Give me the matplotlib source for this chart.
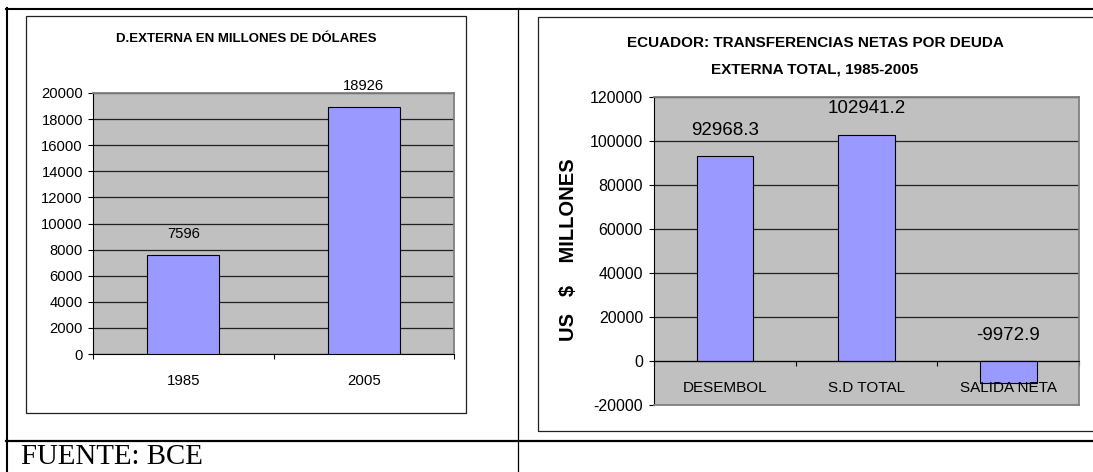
import matplotlib
matplotlib.use('Agg')
import matplotlib.pyplot as plt
from matplotlib.lines import Line2D
from matplotlib.patches import Rectangle
from matplotlib import transforms

# figure size in pixels (dpi 100)
W, H = 1093, 472

# ---- data ----
years = ['1985', '2005']
deuda_externa = [7596, 18926]
deuda_ticks = list(range(0, 20001, 2000))

conceptos = ['DESEMBOL', 'S.D TOTAL', 'SALIDA NETA']
transferencias = [92968.3, 102941.2, -9972.9]
transf_ticks = list(range(-20000, 120001, 20000))

SANS = ['Liberation Sans', 'DejaVu Sans']
BAR = '#9999FF'
PLOT_BG = '#C0C0C0'
BORDER = '#808080'

plt.rcParams['font.family'] = SANS
plt.rcParams['axes.unicode_minus'] = False


def px_rect(x0, y0, x1, y1):
    # pixel box (top-left origin) -> figure fraction rect
    return [x0 / W, 1 - y1 / H, (x1 - x0) / W, (y1 - y0) / H]


def fig_line(fig, xs, ys, lw=1.0, color='black'):
    fig.add_artist(Line2D([x / W for x in xs], [1 - y / H for y in ys],
                          transform=fig.transFigure, lw=lw, color=color))


def fig_box(fig, x0, y0, x1, y1, lw=0.9, color='#202020'):
    fig.add_artist(Rectangle((x0 / W, 1 - y1 / H), (x1 - x0) / W, (y1 - y0) / H,
                             transform=fig.transFigure, fill=False,
                             ec=color, lw=lw))


def style_axes(ax):
    ax.set_facecolor(PLOT_BG)
    ax.yaxis.grid(True, color='#202020', lw=0.9)
    ax.set_axisbelow(True)
    for side in ('top', 'right'):
        ax.spines[side].set_color(BORDER)
        ax.spines[side].set_linewidth(1.3)
    for side in ('left', 'bottom'):
        ax.spines[side].set_color('black')
        ax.spines[side].set_linewidth(0.8)


fig = plt.figure(figsize=(W / 100, H / 100), dpi=100)
fig.patch.set_facecolor('white')

# ---- table frame ----
fig_line(fig, [6, W], [9, 9], lw=1.5)
fig_line(fig, [7, 7], [8, H], lw=1.5)
fig_line(fig, [517.5, 517.5], [8, H], lw=0.9)
fig_line(fig, [6, W], [441, 441], lw=1.6)

# chart boxes
fig_box(fig, 26, 16, 466, 413)
fig_box(fig, 538, 17, 1110, 431)

# ====================
# LEFT CHART
# ====================
ax1 = fig.add_axes(px_rect(93, 93, 454, 354))
style_axes(ax1)
x1 = list(range(len(years)))
ax1.bar(x1, deuda_externa, width=0.4, color=BAR, edgecolor='black', lw=0.8, zorder=3)
ax1.set_xlim(-0.5, len(years) - 0.5)
ax1.set_ylim(0, 20000)
ax1.set_yticks(deuda_ticks)
ax1.set_xticks([i - 0.5 for i in range(len(years) + 1)])
ax1.set_xticklabels([])
ax1.tick_params(axis='both', direction='out', length=3.6, width=0.8,
                color='black', labelsize=10.6, pad=3.6)

blend1 = transforms.blended_transform_factory(ax1.transData, ax1.transAxes)
for i, lab in enumerate(years):
    ax1.text(i, -0.103, lab, transform=blend1, ha='center', va='center', fontsize=10.8)
for i, v in enumerate(deuda_externa):
    ax1.annotate(str(v), (i, v), xytext=(0, 15), textcoords='offset points',
                 ha='center', va='center', fontsize=10.6)

fig.text(246 / W, 1 - 39 / H, 'D.EXTERNA EN MILLONES DE DÓLARES',
         fontweight='bold', fontsize=9.5, ha='center', va='center')

# ====================
# RIGHT CHART
# ====================
ax2 = fig.add_axes(px_rect(654, 97, 1079, 405))
style_axes(ax2)
x2 = list(range(len(conceptos)))
ax2.bar(x2, transferencias, width=0.4, color=BAR, edgecolor='black', lw=0.8, zorder=3)
ax2.set_xlim(-0.5, len(conceptos) - 0.5)
ax2.set_ylim(-20000, 120000)
ax2.set_yticks(transf_ticks)
ax2.set_xticks([i - 0.5 for i in range(len(conceptos) + 1)])
ax2.set_xticklabels([])
ax2.spines['bottom'].set_position(('data', 0))
ax2.spines['bottom'].set_zorder(4)
ax2.axhline(-20000, color=BORDER, lw=1.3, clip_on=False, zorder=5)
ax2.tick_params(axis='both', direction='out', length=3.6, width=0.8,
                color='black', labelsize=11.5, pad=4.3)

for i, lab in enumerate(conceptos):
    ax2.text(i, -12300, lab, ha='center', va='center', fontsize=11)
for i, v in enumerate(transferencias):
    ax2.annotate(str(v), (i, max(v, 0)), xytext=(0, 18.5), textcoords='offset points',
                 ha='center', va='center', fontsize=13.5)

fig.text(815 / W, 1 - 43 / H, 'ECUADOR: TRANSFERENCIAS NETAS POR DEUDA',
         fontweight='bold', fontsize=11, ha='center', va='center')
fig.text(815 / W, 1 - 70 / H, 'EXTERNA TOTAL, 1985-2005',
         fontweight='bold', fontsize=11, ha='center', va='center')
fig.text(569 / W, 1 - 250 / H, 'US   $    MILLONES', rotation=90,
         fontweight='bold', fontsize=14.5, ha='center', va='center')

# source note
fig.text(21 / W, 1 - 464 / H, 'FUENTE: BCE', family=['Liberation Serif', 'DejaVu Serif'],
         fontsize=20.8, ha='left', va='baseline')

fig.savefig('out.png', dpi=100)
